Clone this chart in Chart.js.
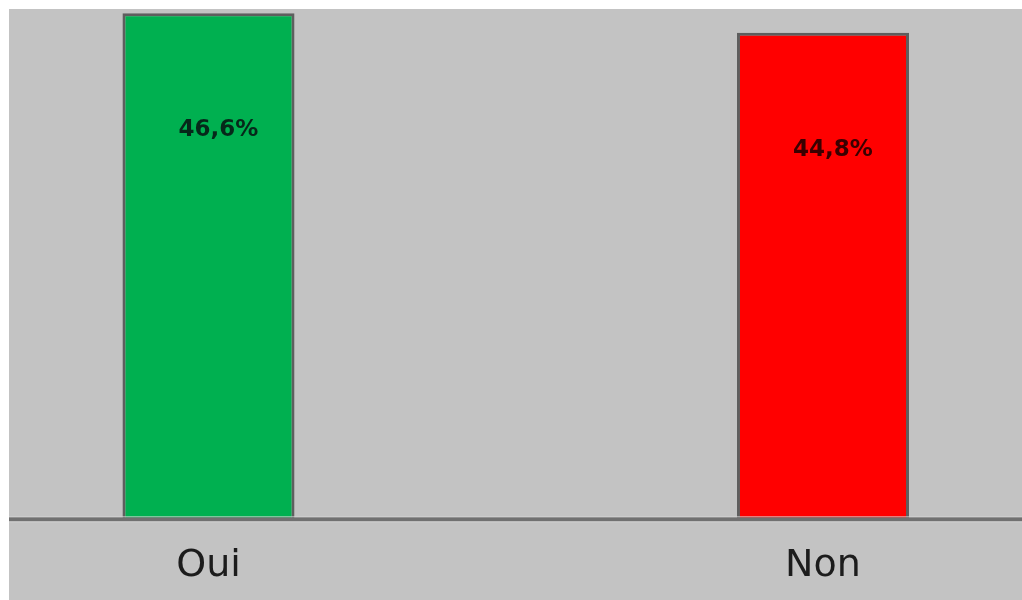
<!DOCTYPE html>
<html><head><meta charset="utf-8">
<script src="https://cdn.jsdelivr.net/npm/chart.js@4"></script>
<style>
html,body{margin:0;padding:0;background:#fff;}
#wrap{position:absolute;left:9px;top:9px;width:1013px;height:591px;background:#c3c3c3;}
canvas{display:block;}
</style></head><body>
<div id="wrap"><canvas id="c" width="1013" height="591" style="width:1013px;height:591px"></canvas></div>
<script>
const categories = ['Oui', 'Non'];
const values = [46.6, 44.8];
const valueLabels = ['46,6%', '44,8%'];
const barColors = ['#00b050', '#ff0000'];
const labelColors = ['#06281a', '#3a0000'];

const axisLinePlugin = {
  id: 'axisLine',
  afterDatasetsDraw(chart) {
    const ctx = chart.ctx;
    const y0 = chart.scales.y.getPixelForValue(0);
    ctx.save();
    ctx.fillStyle = '#d2d2d2';
    ctx.fillRect(0, y0 - 2, chart.width, 1);
    ctx.fillStyle = '#707070';
    ctx.fillRect(0, y0 - 1, chart.width, 4);
    ctx.fillStyle = '#d0d0d0';
    ctx.fillRect(0, y0 + 3, chart.width, 1);
    ctx.restore();
  }
};

const valueLabelPlugin = {
  id: 'valueLabels',
  afterDatasetsDraw(chart) {
    const ctx = chart.ctx;
    const meta = chart.getDatasetMeta(0);
    ctx.save();
    ctx.font = 'bold 23px "DejaVu Sans"';
    ctx.textAlign = 'center';
    ctx.textBaseline = 'middle';
    meta.data.forEach((bar, i) => {
      ctx.fillStyle = labelColors[i];
      ctx.fillText(valueLabels[i], bar.x + 10, bar.y + 117);
    });
    ctx.restore();
  }
};

new Chart(document.getElementById('c'), {
  type: 'bar',
  data: {
    labels: categories,
    datasets: [{
      data: values,
      backgroundColor: barColors,
      borderColor: '#5e5e5e',
      borderWidth: 3,
      borderSkipped: 'bottom',
      categoryPercentage: 1,
      barPercentage: 0.28,
      clip: false
    }]
  },
  options: {
    responsive: false,
    animation: false,
    devicePixelRatio: 1,
    layout: { padding: { left: 199.5, right: 199, top: 0, bottom: -14 } },
    plugins: { legend: { display: false }, tooltip: { enabled: false } },
    scales: {
      x: {
        offset: false,
        grid: { display: false, drawTicks: false },
        border: { display: false },
        ticks: {
          font: { family: 'DejaVu Sans', size: 38 },
          color: '#1c1c1c',
          padding: 25,
          maxRotation: 0,
          autoSkip: false
        }
      },
      y: {
        display: false,
        min: 0,
        max: 47
      }
    }
  },
  plugins: [axisLinePlugin, valueLabelPlugin]
});
</script>
</body></html>
